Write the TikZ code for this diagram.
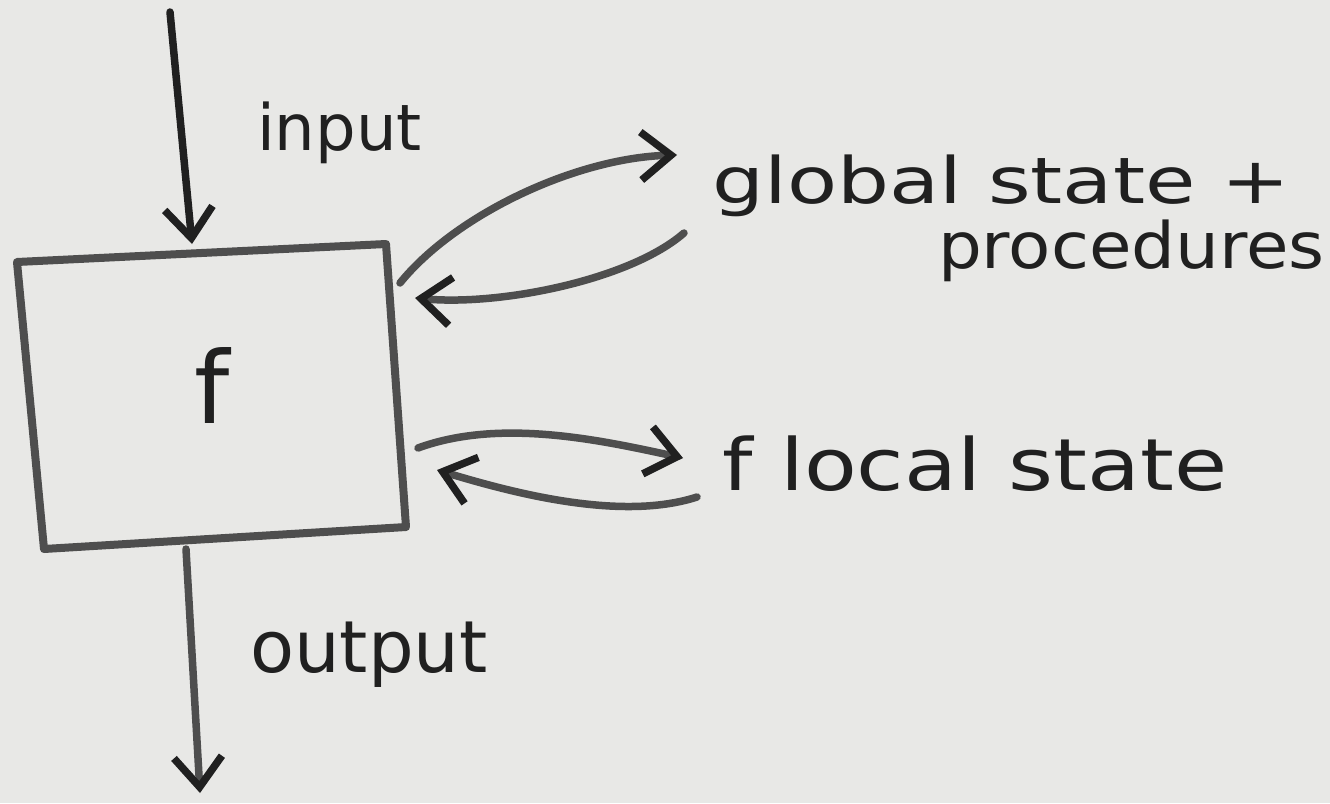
\documentclass[tikz,border=0pt]{standalone}
\usepackage{fontspec}
\setmainfont{DejaVu Sans}
\usetikzlibrary{arrows.meta}
\definecolor{paper}{RGB}{232,232,230}
\definecolor{ink}{RGB}{32,32,32}
\definecolor{pencil}{RGB}{78,78,78}
\begin{document}
\begin{tikzpicture}[x=1pt,y=-1pt,line cap=round,line join=round,
  wire/.style={draw=pencil,line width=7.5pt,
    -{Straight Barb[length=30pt,width=48pt,line width=7.5pt,color=ink]}},
  boxline/.style={draw=pencil,line width=8pt},
  lbl/.style={text=ink,inner sep=0pt,transform shape,font=\fontsize{64}{70}\selectfont}]
\fill[paper] (0,0) rectangle (1330,803);
\useasboundingbox (0,0) rectangle (1330,803);
% box
\coordinate (bTL) at (17,262);
\coordinate (bTR) at (386,244);
\coordinate (bBR) at (406,527);
\coordinate (bBL) at (44,549);
\draw[boxline] (bTL) -- (bTR) -- (bBR) -- (bBL) -- cycle;
\node[text=ink,font=\fontsize{100}{100}\selectfont,inner sep=0pt] (f) at (212,386) {f};
% input / output
\coordinate (inTop) at (170,12);
\coordinate (inEnd) at (192,244);
\coordinate (outStart) at (186,549);
\coordinate (outEnd) at (200,793);
\draw[wire,draw=ink] (inTop) -- (inEnd);
\draw[wire] (outStart) -- (outEnd);
\node[lbl,anchor=base west] (input) at (257,150) {input};
\node[lbl,anchor=base west,font=\fontsize{72}{76}\selectfont] (output) at (250,672) {output};
% labels on the right
\node[lbl,anchor=base west,xscale=1.28] (global) at (712,203) {global state +};
\node[lbl,anchor=base east,xscale=1.08] (proc) at (1325,268) {procedures};
\node[lbl,anchor=base west,xscale=1.2,font=\fontsize{72}{76}\selectfont] (local) at (722,490) {f local state};
% global curves
\coordinate (g1s) at (400,283);
\coordinate (g1e) at (677,155);
\coordinate (g2s) at (684,233);
\coordinate (g2e) at (415,298);
\draw[wire] (g1s) .. controls (455,215) and (575,158) .. (g1e);
\draw[wire] (g2s) .. controls (630,280) and (500,306) .. (g2e);
% local curves
\coordinate (l1s) at (418,448);
\coordinate (l1e) at (683,458);
\coordinate (l2s) at (697,497);
\coordinate (l2e) at (437,470);
\draw[wire] (l1s) .. controls (500,418) and (600,440) .. (l1e);
\draw[wire] (l2s) .. controls (620,522) and (510,492) .. (l2e);
\end{tikzpicture}
\end{document}
